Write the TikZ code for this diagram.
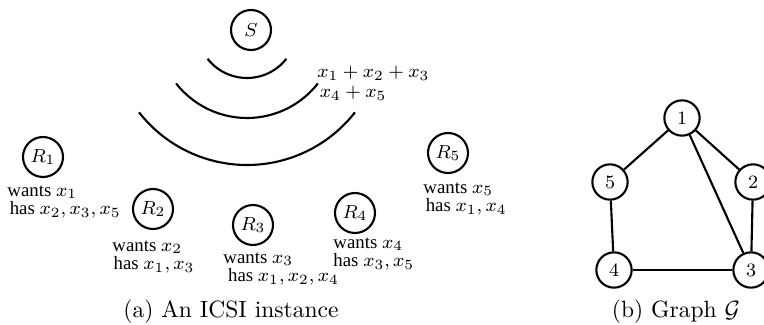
\documentclass[tikz,border=0pt]{standalone}
\usepackage{amsmath,amssymb}
\usepackage{fontspec}
\newfontfamily\tnr{Liberation Serif}
\usepackage{tikz}
\usetikzlibrary{positioning,calc}

\begin{document}
\begin{tikzpicture}[
  x=0.425pt, y=0.425pt,
  user/.style={draw, line width=0.9pt, circle, minimum size=17pt, inner sep=0pt, font=\footnotesize},
  vtx/.style={draw, line width=0.9pt, circle, minimum size=15pt, inner sep=0pt, font=\footnotesize},
  info/.style={align=left, inner sep=0pt, anchor=north west, font=\fontsize{8}{7.8}\selectfont\tnr},
  wave/.style={line width=0.9pt},
  link/.style={line width=0.9pt},
  capt/.style={font=\normalsize}
]

\useasboundingbox (0,0) rectangle (764,-325);

% sender and its broadcast
\node[user] (s) at (251,-30) {$S$};
\coordinate (c) at (247,-28);
\foreach \r in {50,90,137}
  \draw[wave] ($(c)+(218:\r)$) arc[start angle=218, end angle=322, radius=\r];
\node[align=left, anchor=north west, inner sep=0pt, font=\fontsize{8}{8.5}\selectfont] (msg) at (317,-66) {$x_1+x_2+x_3$\\ \kern1pt$x_4+x_5$};

% receivers
\node[user] (r1) at (43,-157) {$R_1$};
\node[user] (r2) at (153,-209) {$R_2$};
\node[user] (r3) at (253,-225) {$R_3$};
\node[user] (r4) at (355,-213) {$R_4$};
\node[user] (r5) at (448,-153) {$R_5$};

\node[info] (t1) at ($(r1.south)+(-36,-7)$) {wants $x_1$\\ \kern1pt has $x_2,x_3,x_5$};
\node[info] (t2) at ($(r2.south)+(-41,-10)$) {wants $x_2$\\ \kern0.5pt has $x_1,x_3$};
\node[info] (t3) at ($(r3.south)+(-30,-6)$) {wants $x_3$\\ \kern2pt has $x_1,x_2,x_4$};
\node[info] (t4) at ($(r4.south)+(-22,-3)$) {wants $x_4$\\ has $x_3,x_5$};
\node[info] (t5) at ($(r5.south)+(-25,-8)$) {wants $x_5$\\ \kern1pt has $x_1,x_4$};

% graph G
\node[vtx] (v1) at (682,-118) {1};
\node[vtx] (v2) at (753,-182) {2};
\node[vtx] (v3) at (751,-270) {3};
\node[vtx] (v4) at (614,-270) {4};
\node[vtx] (v5) at (610,-182) {5};

\draw[link] (v1) -- (v5);
\draw[link] (v1) -- (v2);
\draw[link] (v1) -- (v3);
\draw[link] (v2) -- (v3);
\draw[link] (v5) -- (v4);
\draw[link] (v4) -- (v3);

% captions
\node[capt] (ca) at (231,-312) {(a) An ICSI instance};
\node[capt] (cb) at (676,-312) {(b) Graph $\mathcal{G}$};

\end{tikzpicture}
\end{document}
